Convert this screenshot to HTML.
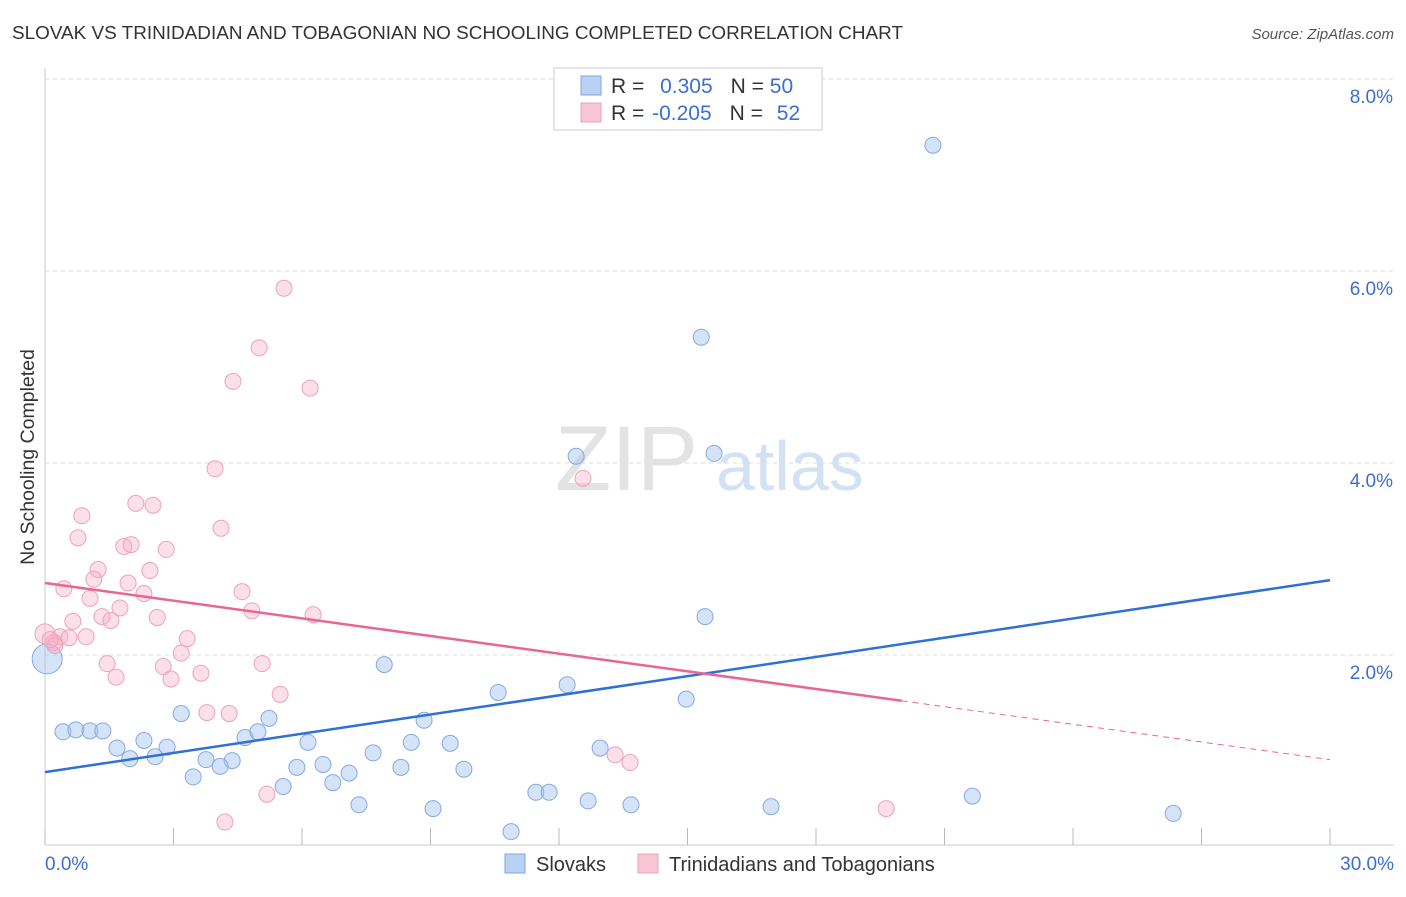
<!DOCTYPE html>
<html><head><meta charset="utf-8"><style>
body{margin:0;background:#fff;font-family:"Liberation Sans",sans-serif}
svg text{font-family:"Liberation Sans",sans-serif}
</style></head><body>
<svg id="c" width="1406" height="892" xmlns="http://www.w3.org/2000/svg">
<text x="12" y="39" font-size="18" fill="#333" textLength="891" lengthAdjust="spacingAndGlyphs">SLOVAK VS TRINIDADIAN AND TOBAGONIAN NO SCHOOLING COMPLETED CORRELATION CHART</text>
<text x="1394" y="39" font-size="15" fill="#555" text-anchor="end" font-style="italic">Source: ZipAtlas.com</text>
<text x="0" y="0" transform="translate(34,457) rotate(-90)" font-size="19.5" fill="#333" text-anchor="middle">No Schooling Completed</text>
<g><text x="555" y="490" font-size="92" fill="#ddd" font-family="Liberation Serif" opacity="0.8">ZIP</text><text x="716" y="490" font-size="70" fill="#c8dcf2" opacity="0.8">atlas</text></g>
<g id="grid"></g><g id="ticks"></g><g id="pts"></g><g id="lines"></g>
<g>
<rect x="554" y="68" width="268" height="62" fill="#fff" stroke="#ccc"/>
<rect x="581" y="76" width="20" height="19" fill="#b9d1f3" stroke="#7fa6e0"/>
<rect x="581" y="103" width="20" height="19" fill="#f9c6d5" stroke="#eda2ba"/>
<text x="611" y="93" font-size="21" fill="#333">R = <tspan fill="#3b6fd1" dx="10">0.305</tspan><tspan dx="18" fill="#333">N = </tspan><tspan fill="#3b6fd1">50</tspan></text>
<text x="611" y="120" font-size="21" fill="#333">R = <tspan fill="#3b6fd1" dx="2">-0.205</tspan><tspan dx="18" fill="#333">N = </tspan><tspan fill="#3b6fd1" dx="8">52</tspan></text>
</g>
<g>
<rect x="505" y="854" width="20" height="19" fill="#b9d1f3" stroke="#7fa6e0"/>
<text x="536" y="871" font-size="20" fill="#333">Slovaks</text>
<rect x="638" y="854" width="20" height="19" fill="#f9c6d5" stroke="#eda2ba"/>
<text x="669" y="871" font-size="20" fill="#333">Trinidadians and Tobagonians</text>
</g>
</svg>
<script>
const yTicks=[2,4,6,8];
const yTickLabels=["2.0%","4.0%","6.0%","8.0%"];
const xEnds=[0,30];
const xEndLabels=["0.0%","30.0%"];
const slovakX=[20.73,15.32,12.40,15.62,15.41,7.92,10.58,12.19,14.97,3.18,5.23,0.42,0.72,1.05,1.35,8.85,2.31,1.68,2.85,4.67,4.97,6.14,8.55,9.46,12.96,1.98,2.57,3.76,4.37,4.09,5.88,6.49,7.66,8.31,9.78,7.10,3.46,6.72,5.56,11.46,11.77,12.68,13.68,16.95,21.65,7.33,9.06,10.88,26.34,0.05];
const slovakY=[7.31,5.31,4.07,4.10,2.40,1.90,1.61,1.69,1.54,1.39,1.34,1.20,1.22,1.21,1.21,1.32,1.11,1.03,1.04,1.14,1.20,1.09,1.09,1.08,1.03,0.92,0.94,0.91,0.90,0.84,0.83,0.86,0.98,0.83,0.81,0.77,0.73,0.67,0.63,0.57,0.57,0.48,0.44,0.42,0.53,0.44,0.40,0.16,0.35,1.96];
const trinX=[5.58,5.00,4.39,6.19,3.97,12.56,2.12,2.52,0.86,4.11,0.77,1.84,2.01,2.83,1.24,2.45,1.14,1.94,0.44,4.60,1.05,2.31,1.75,4.83,1.33,1.54,2.62,6.26,0.65,0,0.35,0.96,0.56,3.32,0.21,3.18,1.45,2.76,5.07,1.66,2.94,3.64,5.49,3.78,4.30,13.31,13.66,5.18,4.20,19.64,0.23,0.12];
const trinY=[5.82,5.20,4.85,4.78,3.94,3.84,3.58,3.56,3.45,3.32,3.22,3.13,3.15,3.10,2.89,2.88,2.79,2.75,2.69,2.66,2.59,2.64,2.49,2.46,2.40,2.36,2.39,2.42,2.35,2.22,2.19,2.19,2.18,2.17,2.13,2.02,1.91,1.88,1.91,1.77,1.75,1.81,1.59,1.40,1.39,0.96,0.88,0.55,0.26,0.40,2.10,2.16];
const slovakBig=[49];
const trinBig=[29];
const slovakTrend=[0.78,2.78];
const trinTrend=[2.75,0.91];
const trinSolidEnd=20;

const X=v=>45+v/30*1285, Y=v=>847-v*96;
const NS='http://www.w3.org/2000/svg';
function mk(p,tag,a){const e=document.createElementNS(NS,tag);for(const k in a)e.setAttribute(k,a[k]);p.appendChild(e);return e;}
const g=document.getElementById('grid'),t=document.getElementById('ticks'),P=document.getElementById('pts'),L=document.getElementById('lines');
yTicks.forEach((v,i)=>{
 const l=mk(g,'line',{x1:45,x2:1394,y1:Y(v),y2:Y(v),stroke:'#ddd','stroke-dasharray':'4,4'});
 
 
 const tx=mk(g,'text',{x:1393,y:Y(v)+24,'font-size':19,fill:'#3b6fd1','text-anchor':'end'});tx.textContent=yTickLabels[i];
 
 
});
mk(g,'line',{x1:45,x2:45,y1:68,y2:845,stroke:'#ccc'});
mk(g,'line',{x1:45,x2:1394,y1:845,y2:845,stroke:'#ccc'});
for(let v=0;v<=30;v+=3){const k=mk(t,'line',{x1:X(v),x2:X(v),y1:828,y2:845,stroke:'#bbb'});
 
 }
xEnds.forEach((v,i)=>{const tx=mk(t,'text',{x:i?1394:45,y:870,'font-size':19,fill:'#3b6fd1','text-anchor':i?'end':'start'});tx.textContent=xEndLabels[i];
 
 });
slovakX.forEach((v,i)=>{const c=mk(P,'circle',{cx:X(v),cy:Y(slovakY[i]),r:slovakBig.includes(i)?15:8,fill:'rgba(160,192,240,0.45)',stroke:'#86a9e2','stroke-width':1});
 
 });
trinX.forEach((v,i)=>{const c=mk(P,'circle',{cx:X(v),cy:Y(trinY[i]),r:trinBig.includes(i)?10:8,fill:'rgba(246,176,199,0.4)',stroke:'#eea2bb','stroke-width':1});
 
 });
const b=mk(L,'line',{x1:X(0),y1:Y(slovakTrend[0]),x2:X(30),y2:Y(slovakTrend[1]),stroke:'#2f6fd6','stroke-width':2.5});


const ym=trinTrend[0]+(trinTrend[1]-trinTrend[0])*trinSolidEnd/30;
const p1=mk(L,'line',{x1:X(0),y1:Y(trinTrend[0]),x2:X(trinSolidEnd),y2:Y(ym),stroke:'#e8678f','stroke-width':2.5});


const p2=mk(L,'line',{x1:X(trinSolidEnd),y1:Y(ym),x2:X(30),y2:Y(trinTrend[1]),stroke:'#e8678f','stroke-width':1,'stroke-dasharray':'6,5'});


</script>
</body></html>
